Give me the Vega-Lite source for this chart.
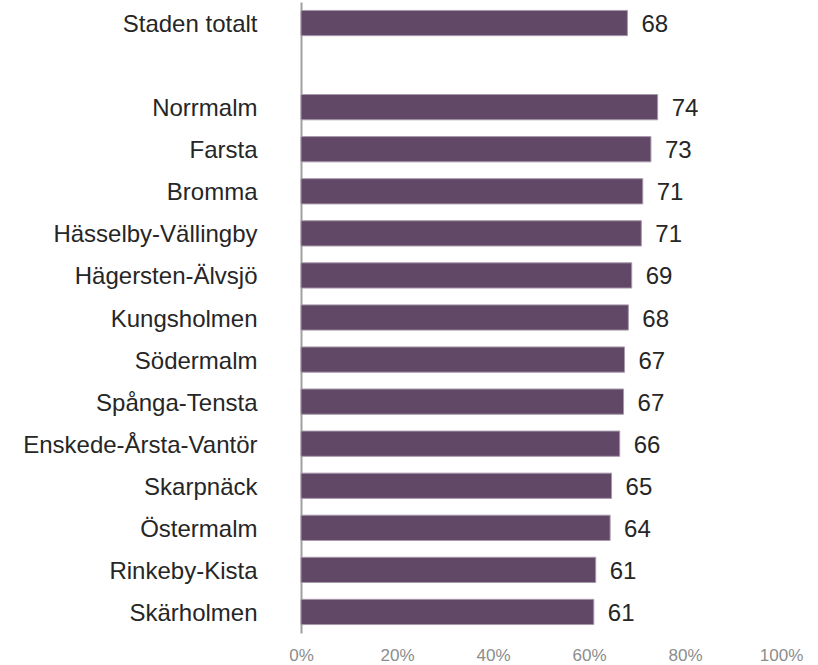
{
  "$schema": "https://vega.github.io/schema/vega-lite/v6.json",
  "width": 480,
  "height": 631,
  "autosize": {"type": "none"},
  "padding": {"left": 301, "top": 2, "right": 37, "bottom": 32},
  "background": "white",
  "config": {
    "view": {"stroke": null},
    "font": "Liberation Sans"
  },
  "data": {
    "values": [
      {"omrade": "Staden totalt", "andel": 68.0},
      {"omrade": "Norrmalm", "andel": 74.3},
      {"omrade": "Farsta", "andel": 72.9},
      {"omrade": "Bromma", "andel": 71.2},
      {"omrade": "Hässelby-Vällingby", "andel": 70.9},
      {"omrade": "Hägersten-Älvsjö", "andel": 68.9},
      {"omrade": "Kungsholmen", "andel": 68.2},
      {"omrade": "Södermalm", "andel": 67.4},
      {"omrade": "Spånga-Tensta", "andel": 67.2},
      {"omrade": "Enskede-Årsta-Vantör", "andel": 66.4},
      {"omrade": "Skarpnäck", "andel": 64.7},
      {"omrade": "Östermalm", "andel": 64.4},
      {"omrade": "Rinkeby-Kista", "andel": 61.4},
      {"omrade": "Skärholmen", "andel": 61.0}
    ]
  },
  "encoding": {
    "y": {
      "field": "omrade",
      "type": "nominal",
      "sort": null,
      "scale": {
        "domain": ["Staden totalt", " ", "Norrmalm", "Farsta", "Bromma", "Hässelby-Vällingby", "Hägersten-Älvsjö", "Kungsholmen", "Södermalm", "Spånga-Tensta", "Enskede-Årsta-Vantör", "Skarpnäck", "Östermalm", "Rinkeby-Kista", "Skärholmen"],
        "paddingInner": 0.4,
        "paddingOuter": 0.2
      },
      "axis": {
        "title": null,
        "ticks": false,
        "grid": false,
        "domainColor": "#a0a0a0",
        "domainWidth": 2,
        "labelFontSize": 24,
        "labelColor": "#262626",
        "labelPadding": 44,
        "labelOffset": 2,
        "labelLimit": 400
      }
    },
    "x": {
      "field": "andel",
      "type": "quantitative",
      "scale": {"domain": [0, 100], "nice": false},
      "axis": {
        "title": null,
        "values": [0, 20, 40, 60, 80, 100],
        "labelExpr": "datum.value + '%'",
        "domain": false,
        "ticks": false,
        "grid": false,
        "labelFontSize": 17,
        "labelColor": "#8c8c8c",
        "labelPadding": 14,
        "labelFlush": false
      }
    }
  },
  "layer": [
    {
      "mark": {"type": "bar", "color": "#614866", "stroke": "#a898ab", "strokeWidth": 1}
    },
    {
      "mark": {"type": "text", "align": "left", "baseline": "middle", "dx": 14, "dy": 2, "fontSize": 24, "color": "#262626"},
      "encoding": {
        "text": {"field": "andel", "type": "quantitative", "format": ".0f"}
      }
    }
  ]
}
